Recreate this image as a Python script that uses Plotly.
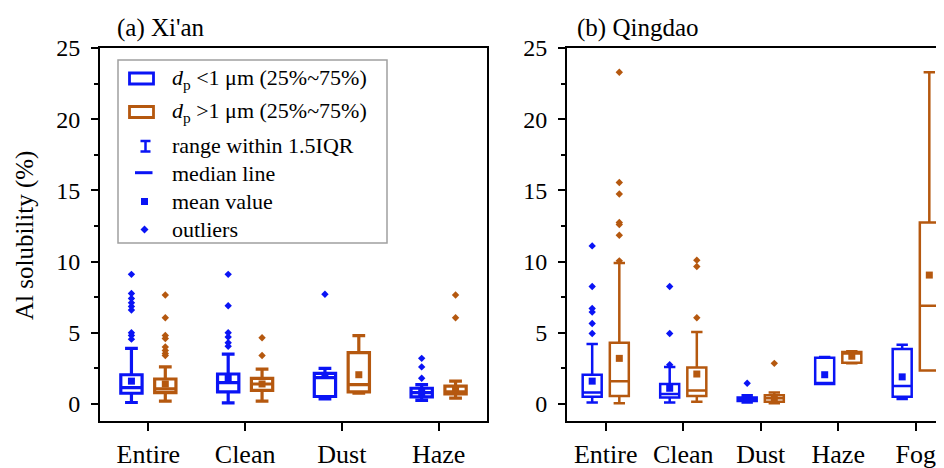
import plotly.graph_objects as go

# ---------------- data ----------------
xian_categories = ["Entire", "Clean", "Dust", "Haze"]
qd_categories = ["Entire", "Clean", "Dust", "Haze", "Fog"]

# Xi'an, dp < 1 um
xian_fine_lower = [0.1, 0.08, 0.35, 0.25]
xian_fine_q1 = [0.75, 0.85, 0.52, 0.5]
xian_fine_median = [1.15, 1.5, 1.85, 0.8]
xian_fine_q3 = [2.05, 2.1, 2.15, 1.1]
xian_fine_upper = [3.9, 3.5, 2.5, 1.35]
xian_fine_mean = [1.6, 1.85, 2.0, 0.8]
xian_fine_outliers = [[4.55, 4.8, 5.0, 6.6, 6.85, 7.1, 7.4, 7.75, 9.1],
                      [4.05, 4.3, 4.7, 5.0, 6.9, 9.1],
                      [7.7],
                      [1.8, 2.6, 3.2]]

# Xi'an, dp > 1 um
xian_coarse_lower = [0.2, 0.2, 0.75, 0.4]
xian_coarse_q1 = [0.8, 0.95, 0.85, 0.7]
xian_coarse_median = [1.05, 1.4, 1.35, 0.85]
xian_coarse_q3 = [1.75, 1.8, 3.6, 1.25]
xian_coarse_upper = [2.6, 2.45, 4.8, 1.6]
xian_coarse_mean = [1.4, 1.4, 2.05, 1.0]
xian_coarse_outliers = [[3.4, 3.55, 3.75, 4.0, 4.6, 4.8, 6.05, 7.65],
                        [3.4, 4.65],
                        [],
                        [6.05, 7.65]]

# Qingdao, dp < 1 um
qd_fine_lower = [0.1, 0.1, 0.1, 1.4, 0.35]
qd_fine_q1 = [0.5, 0.45, 0.2, 1.4, 0.5]
qd_fine_median = [0.8, 0.7, 0.3, 1.45, 1.25]
qd_fine_q3 = [2.05, 1.4, 0.45, 3.25, 3.85]
qd_fine_upper = [4.2, 2.6, 0.6, 3.3, 4.15]
qd_fine_mean = [1.6, 1.1, 0.35, 2.05, 1.9]
qd_fine_outliers = [[4.95, 5.65, 6.45, 6.7, 8.25, 11.1],
                    [2.75, 4.95, 8.25],
                    [1.45],
                    [],
                    []]

# Qingdao, dp > 1 um
qd_coarse_lower = [0.05, 0.15, 0.05, 2.85, 2.35]
qd_coarse_q1 = [0.55, 0.55, 0.15, 2.9, 2.35]
qd_coarse_median = [1.6, 0.95, 0.4, 3.55, 6.9]
qd_coarse_q3 = [4.3, 2.55, 0.6, 3.65, 12.75]
qd_coarse_upper = [9.9, 5.05, 0.8, 3.7, 23.3]
qd_coarse_mean = [3.2, 2.1, 0.45, 3.35, 9.05]
qd_coarse_outliers = [[10.05, 11.85, 12.6, 12.75, 14.75, 15.55, 23.3],
                      [6.05, 9.65, 10.1],
                      [2.85],
                      [],
                      []]

panel_titles = ["(a) Xi'an", "(b) Qingdao"]
y_title = "Al solubility (%)"
legend_labels = ["<i>d</i><sub>p</sub> <1 μm (25%~75%)",
                 "<i>d</i><sub>p</sub> >1 μm (25%~75%)",
                 "range within 1.5IQR",
                 "median line",
                 "mean value",
                 "outliers"]

# ---------------- style ----------------
BLUE = "#0A14F5"
ORANGE = "#B5580F"
FONT = "Liberation Serif"
W, H = 944, 468
PAGE_MARGIN = 8  # default body margin of the html page
OFFSET = 0.175


def px(x):
    """window pixel x -> paper fraction"""
    return (x - PAGE_MARGIN) / W


def py(y):
    """window pixel y -> paper fraction"""
    return 1 - (y - PAGE_MARGIN) / H


fig = go.Figure()


def add_panel(xa, ya, cats, series, box_w, lw):
    for (color, off, lower, q1, med, q3, upper, mean, outl) in series:
        pos = [i + 1 + off for i in range(len(cats))]
        fig.add_trace(go.Box(
            x=pos, q1=q1, median=med, q3=q3, lowerfence=lower, upperfence=upper,
            orientation="v", width=box_w, whiskerwidth=0.6,
            line=dict(color=color, width=lw), fillcolor="white",
            boxpoints=False, showlegend=False, hoverinfo="skip",
            xaxis=xa, yaxis=ya))
        fig.add_trace(go.Scatter(
            x=pos, y=mean, mode="markers",
            marker=dict(symbol="square", size=7, color=color, line=dict(width=0)),
            showlegend=False, xaxis=xa, yaxis=ya))
        ox, oy = [], []
        for p, vals in zip(pos, outl):
            ox += [p] * len(vals)
            oy += vals
        fig.add_trace(go.Scatter(
            x=ox, y=oy, mode="markers",
            marker=dict(symbol="diamond", size=5.7, color=color, line=dict(width=0)),
            showlegend=False, xaxis=xa, yaxis=ya))


add_panel("x", "y", xian_categories, [
    (BLUE, -OFFSET, xian_fine_lower, xian_fine_q1, xian_fine_median, xian_fine_q3,
     xian_fine_upper, xian_fine_mean, xian_fine_outliers),
    (ORANGE, OFFSET, xian_coarse_lower, xian_coarse_q1, xian_coarse_median, xian_coarse_q3,
     xian_coarse_upper, xian_coarse_mean, xian_coarse_outliers),
], 0.22, 3.2)

add_panel("x2", "y2", qd_categories, [
    (BLUE, -OFFSET, qd_fine_lower, qd_fine_q1, qd_fine_median, qd_fine_q3,
     qd_fine_upper, qd_fine_mean, qd_fine_outliers),
    (ORANGE, OFFSET, qd_coarse_lower, qd_coarse_q1, qd_coarse_median, qd_coarse_q3,
     qd_coarse_upper, qd_coarse_mean, qd_coarse_outliers),
], 0.245, 2.5)

ydom = [py(421), py(48)]
right_end_px = W + PAGE_MARGIN  # right edge of the figure in window pixels
common_x = dict(showline=True, linecolor="black", linewidth=2, ticks="outside",
                ticklen=8, tickwidth=2, tickcolor="black", showgrid=False,
                zeroline=False, tickfont=dict(family=FONT, size=26, color="black"),
                ticklabelstandoff=1, automargin=False)
common_y = dict(showline=True, linecolor="black", linewidth=2, ticks="outside",
                ticklen=7, tickwidth=2, tickcolor="black", showgrid=False,
                zeroline=False, range=[-1.2, 25], tickvals=[0, 5, 10, 15, 20, 25],
                minor=dict(dtick=2.5, ticks="outside", ticklen=4, tickwidth=2,
                           tickcolor="black", showgrid=False),
                tickfont=dict(family=FONT, size=24, color="black"),
                ticklabelstandoff=6, domain=ydom, automargin=False)

fig.update_layout(
    width=W, height=H, margin=dict(l=0, r=0, t=0, b=0, autoexpand=False),
    paper_bgcolor="white", plot_bgcolor="white",
    showlegend=False,
    xaxis=dict(domain=[px(100), px(487)], range=[0.5, 4.5],
               tickvals=list(range(1, len(xian_categories) + 1)),
               ticktext=xian_categories, mirror=True, anchor="y", **common_x),
    yaxis=dict(mirror=True, anchor="x", **common_y),
    xaxis2=dict(domain=[px(567), 1.0],
                range=[0.5, 0.5 + 5 * (right_end_px - 567) / 387.5],
                tickvals=list(range(1, len(qd_categories) + 1)),
                ticktext=qd_categories, mirror=True, anchor="y2", **common_x),
    yaxis2=dict(mirror=False, anchor="x2", **common_y),
)

annotations = [
    dict(text=panel_titles[0], x=px(115), y=py(28), xref="paper", yref="paper",
         xanchor="left", yanchor="middle", showarrow=False,
         font=dict(family=FONT, size=25, color="black")),
    dict(text=panel_titles[1], x=px(575), y=py(28), xref="paper", yref="paper",
         xanchor="left", yanchor="middle", showarrow=False,
         font=dict(family=FONT, size=25, color="black")),
    dict(text=y_title, x=px(25), y=py(236), xref="paper", yref="paper",
         xanchor="center", yanchor="middle", textangle=-90, showarrow=False,
         font=dict(family=FONT, size=25, color="black")),
]

legend_rows = [79, 112, 145, 173, 201, 229.5]
for lab, yc in zip(legend_labels, legend_rows):
    annotations.append(dict(text=lab, x=px(170), y=py(yc), xref="paper", yref="paper",
                            xanchor="left", yanchor="middle", showarrow=False,
                            font=dict(family=FONT, size=22, color="black")))

shapes = [
    # legend frame
    dict(type="rect", xref="paper", yref="paper", x0=px(118), x1=px(387),
         y0=py(60), y1=py(243), line=dict(color="#A0A0A0", width=1.5)),
    # box symbols
    dict(type="rect", xref="paper", yref="paper", x0=px(129.5), x1=px(153.5),
         y0=py(73), y1=py(84), line=dict(color=BLUE, width=2.8)),
    dict(type="rect", xref="paper", yref="paper", x0=px(129.5), x1=px(153.5),
         y0=py(106.5), y1=py(117.5), line=dict(color=ORANGE, width=2.8)),
    # whisker "I" symbol
    dict(type="path", xref="paper", yref="paper",
         path=f"M{px(140.5)},{py(141)} L{px(150.5)},{py(141)} M{px(145.5)},{py(141)} "
              f"L{px(145.5)},{py(151.5)} M{px(140.5)},{py(151.5)} L{px(150.5)},{py(151.5)}",
         line=dict(color=BLUE, width=2.5)),
    # median line symbol
    dict(type="line", xref="paper", yref="paper", x0=px(135), x1=px(152.5),
         y0=py(172.7), y1=py(172.7), line=dict(color=BLUE, width=3)),
    # mean square symbol
    dict(type="rect", xref="paper", yref="paper", x0=px(141), x1=px(148),
         y0=py(198), y1=py(205), fillcolor=BLUE, line=dict(width=0)),
    # outlier diamond symbol
    dict(type="path", xref="paper", yref="paper",
         path=f"M{px(144.5)},{py(225.5)} L{px(148.5)},{py(229.5)} L{px(144.5)},{py(233.5)} "
              f"L{px(140.5)},{py(229.5)} Z",
         fillcolor=BLUE, line=dict(width=0)),
]

fig.update_layout(annotations=annotations, shapes=shapes)
fig.write_html("out.html")
